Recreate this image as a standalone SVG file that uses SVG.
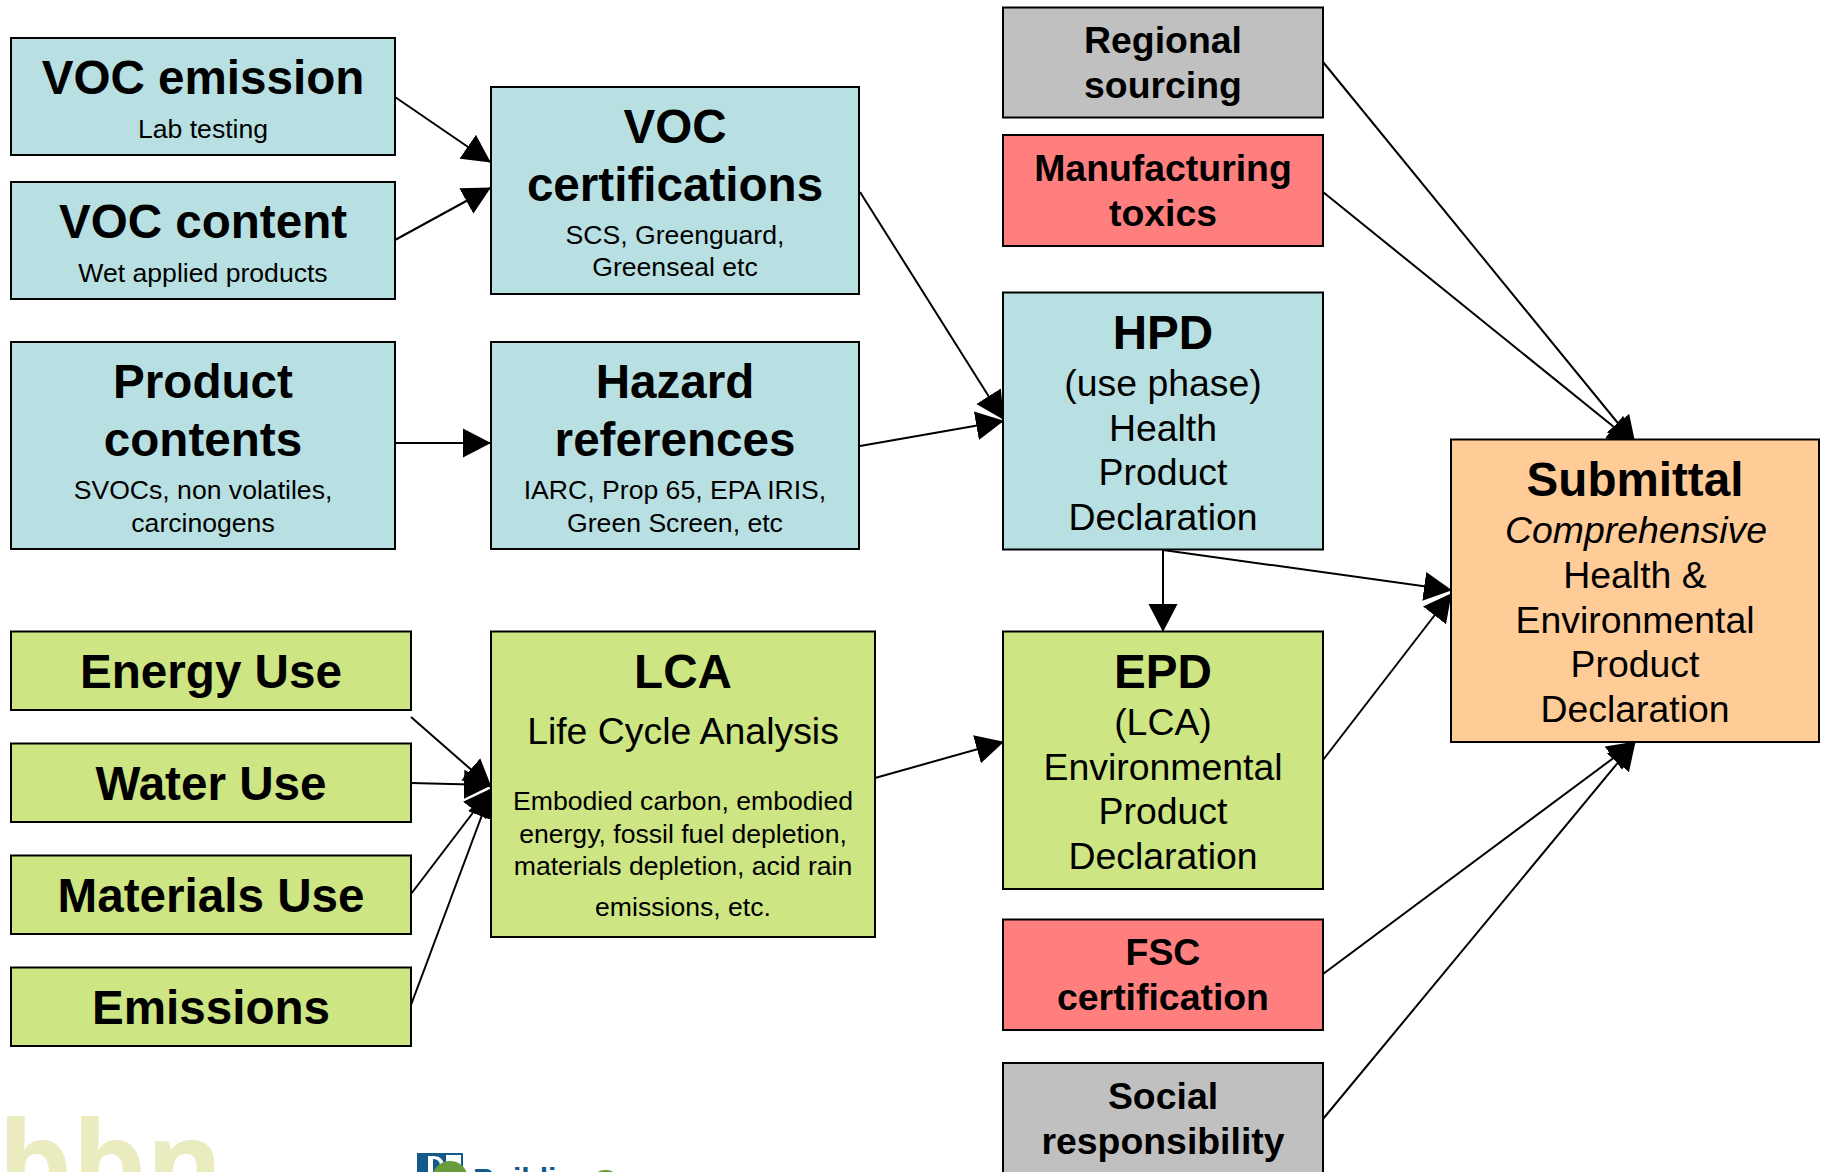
<svg xmlns="http://www.w3.org/2000/svg" width="1825" height="1172" viewBox="0 0 1825 1172">
<style>
text{font-family:"Liberation Sans",Arial,sans-serif;text-anchor:middle;fill:#000}
.n rect{stroke:#000;stroke-width:2}
.b rect{fill:#b8e0e2}.g rect{fill:#cde582}.r rect{fill:#ff7f7f}.y rect{fill:#c0c0c0}.o rect{fill:#ffcb96}
.t1{font-size:47.6px;font-weight:bold}.t2{font-size:37.4px;font-weight:bold}
.s1{font-size:26.6px}.s2{font-size:37.4px}
#connectors line{stroke:#000;stroke-width:2;marker-end:url(#a)}
</style>
<defs><marker id="a" markerUnits="userSpaceOnUse" markerWidth="30" markerHeight="30" refX="27" refY="15" orient="auto"><path d="M0 0.5L28 15L0 29.5Z" fill="#000"/></marker></defs>
<rect width="1825" height="1172" fill="#fff"/>
<g id="connectors">
<line x1="395" y1="97" x2="490" y2="162"/>
<line x1="395" y1="240" x2="490" y2="188"/>
<line x1="395" y1="443" x2="490" y2="443"/>
<line x1="860" y1="192" x2="1003" y2="419"/>
<line x1="860" y1="446" x2="1003" y2="421"/>
<line x1="411" y1="717" x2="491" y2="787"/>
<line x1="411" y1="783" x2="491" y2="785"/>
<line x1="411" y1="894" x2="491" y2="789"/>
<line x1="411" y1="1005" x2="491" y2="791"/>
<line x1="875" y1="778" x2="1003" y2="742"/>
<line x1="1163" y1="550" x2="1163" y2="631"/>
<line x1="1163" y1="550" x2="1451" y2="590"/>
<line x1="1323" y1="760" x2="1451" y2="594"/>
<line x1="1323" y1="62" x2="1635" y2="444"/>
<line x1="1323" y1="192" x2="1635" y2="444"/>
<line x1="1323" y1="974" x2="1635" y2="742"/>
<line x1="1323" y1="1119" x2="1635" y2="742"/>
</g>
<g id="voc-emission" class="n b"><rect x="11" y="38" width="384" height="117"/><text x="203" y="93.5" class="t1">VOC emission</text><text x="203" y="138" class="s1">Lab testing</text></g>
<g id="voc-content" class="n b"><rect x="11" y="182" width="384" height="117"/><text x="203" y="237.5" class="t1">VOC content</text><text x="203" y="282" class="s1">Wet applied products</text></g>
<g id="product-contents" class="n b"><rect x="11" y="342" width="384" height="207"/><text x="203" y="397.5" class="t1">Product</text><text x="203" y="455.5" class="t1">contents</text><text x="203" y="499" class="s1">SVOCs, non volatiles,</text><text x="203" y="532" class="s1">carcinogens</text></g>
<g id="voc-certifications" class="n b"><rect x="491" y="87" width="368" height="207"/><text x="675" y="142.5" class="t1">VOC</text><text x="675" y="200.5" class="t1">certifications</text><text x="675" y="244" class="s1">SCS, Greenguard,</text><text x="675" y="276" class="s1">Greenseal etc</text></g>
<g id="hazard-references" class="n b"><rect x="491" y="342" width="368" height="207"/><text x="675" y="397.5" class="t1">Hazard</text><text x="675" y="455.5" class="t1">references</text><text x="675" y="499" class="s1">IARC, Prop 65, EPA IRIS,</text><text x="675" y="532" class="s1">Green Screen, etc</text></g>
<g id="energy-use" class="n g"><rect x="11" y="631.5" width="400" height="78.5"/><text x="211" y="688" class="t1">Energy Use</text></g>
<g id="water-use" class="n g"><rect x="11" y="743.5" width="400" height="78.5"/><text x="211" y="800" class="t1">Water Use</text></g>
<g id="materials-use" class="n g"><rect x="11" y="855.5" width="400" height="78.5"/><text x="211" y="912" class="t1">Materials Use</text></g>
<g id="emissions" class="n g"><rect x="11" y="967.5" width="400" height="78.5"/><text x="211" y="1024" class="t1">Emissions</text></g>
<g id="lca" class="n g"><rect x="491" y="631.5" width="384" height="305.5"/><text x="683" y="688" class="t1">LCA</text><text x="683" y="744" class="s2">Life Cycle Analysis</text><text x="683" y="810" class="s1">Embodied carbon, embodied</text><text x="683" y="843" class="s1">energy, fossil fuel depletion,</text><text x="683" y="875" class="s1">materials depletion, acid rain</text><text x="683" y="916" class="s1">emissions, etc.</text></g>
<g id="regional-sourcing" class="n y"><rect x="1003" y="7.5" width="320" height="110"/><text x="1163" y="53" class="t2">Regional</text><text x="1163" y="98" class="t2">sourcing</text></g>
<g id="manufacturing-toxics" class="n r"><rect x="1003" y="135" width="320" height="111"/><text x="1163" y="181" class="t2">Manufacturing</text><text x="1163" y="226" class="t2">toxics</text></g>
<g id="hpd" class="n b"><rect x="1003" y="292.5" width="320" height="257"/><text x="1163" y="349" class="t1">HPD</text><text x="1163" y="396" class="s2">(use phase)</text><text x="1163" y="441" class="s2">Health</text><text x="1163" y="485" class="s2">Product</text><text x="1163" y="530" class="s2">Declaration</text></g>
<g id="epd" class="n g"><rect x="1003" y="631.5" width="320" height="257.5"/><text x="1163" y="688" class="t1">EPD</text><text x="1163" y="735" class="s2">(LCA)</text><text x="1163" y="780" class="s2">Environmental</text><text x="1163" y="824" class="s2">Product</text><text x="1163" y="869" class="s2">Declaration</text></g>
<g id="fsc-certification" class="n r"><rect x="1003" y="919.5" width="320" height="110.5"/><text x="1163" y="965" class="t2">FSC</text><text x="1163" y="1010" class="t2">certification</text></g>
<g id="social-responsibility" class="n y"><rect x="1003" y="1063" width="320" height="120"/><text x="1163" y="1109" class="t2">Social</text><text x="1163" y="1154" class="t2">responsibility</text></g>
<g id="submittal" class="n o"><rect x="1451" y="439.5" width="368" height="302.5"/><text x="1635" y="495.5" class="t1">Submittal</text><text x="1636" y="543" class="s2" font-style="italic">Comprehensive</text><text x="1635" y="588" class="s2">Health &amp;</text><text x="1635" y="633" class="s2">Environmental</text><text x="1635" y="677" class="s2">Product</text><text x="1635" y="722" class="s2">Declaration</text></g>
<g id="logos">
<text x="-2" y="1205" font-size="117" font-weight="bold" style="fill:#ebebc0;font-family:'Open Sans',sans-serif;text-anchor:start">bbn</text>
<rect x="417" y="1153" width="46" height="30" fill="#115a8a"/>
<rect x="446" y="1155" width="15" height="12" fill="#fff"/>
<path d="M428 1156h5c8 0 11 5 11 10s-3 10-9 13h-7z" fill="#fff"/>
<path d="M433 1159c5 0 7 3 7 7s-2 7-7 9z" fill="#115a8a"/>
<circle cx="450" cy="1179" r="18" fill="#6a9c3e"/>
<circle cx="452" cy="1181" r="8" fill="#fff"/>
<text x="473" y="1189" font-size="30" font-weight="bold" style="fill:#115a8a;text-anchor:start">Building</text>
<text x="592" y="1193" font-size="34" font-weight="bold" style="fill:#6a9c3e;text-anchor:start">G</text>
</g>
</svg>
